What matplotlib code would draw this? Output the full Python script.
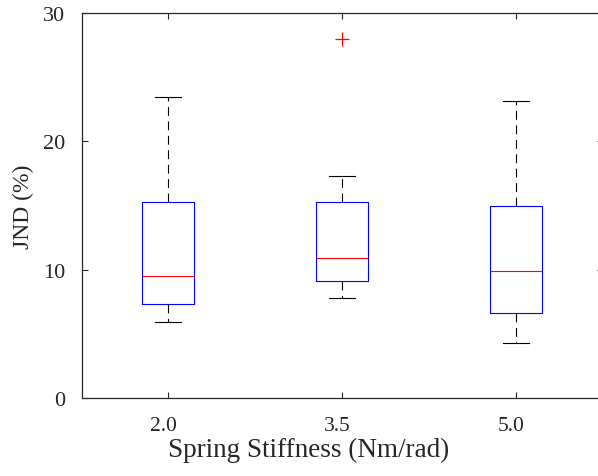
import matplotlib
matplotlib.use("Agg")
import matplotlib.pyplot as plt
from matplotlib.transforms import ScaledTranslation

plt.rcParams['font.family'] = ['Liberation Serif', 'DejaVu Serif']

categories = ["2.0", "3.5", "5.0"]
q1 = [7.37, 9.14, 6.62]
median = [9.52, 10.93, 9.89]
q3 = [15.26, 15.31, 15.00]
whisker_low = [5.94, 7.79, 4.28]
whisker_high = [23.47, 17.31, 23.15]
outliers = [[], [28.0], []]

stats = []
for i in range(len(categories)):
    stats.append(dict(label=categories[i], q1=q1[i], med=median[i], q3=q3[i],
                      whislo=whisker_low[i], whishi=whisker_high[i],
                      fliers=outliers[i]))

W, H = 598, 477
fig = plt.figure(figsize=(W/100, H/100), dpi=100)
ax_l, ax_r, ax_t, ax_b = 81.5, 602.6, 14.0, 399.3
ax = fig.add_axes([ax_l/W, (H-ax_b)/H, (ax_r-ax_l)/W, (ax_b-ax_t)/H])

lw = 0.8
ax.bxp(stats, positions=[1, 2, 3], widths=0.3, showfliers=True,
       boxprops=dict(color='#0000ff', linewidth=lw),
       medianprops=dict(color='#ff0000', linewidth=lw),
       whiskerprops=dict(color='black', linewidth=lw, linestyle=(0, (8, 5))),
       capprops=dict(color='black', linewidth=lw),
       capwidths=0.15,
       flierprops=dict(marker='+', markeredgecolor='#ff0000', markersize=10,
                       markeredgewidth=0.9, linestyle='none'))

ax.set_xlim(0.5, 3.5)
ax.set_ylim(0, 30)
ax.set_yticks([0, 10, 20, 30])
ax.set_xticks([1, 2, 3])
ax.set_xticklabels(categories)

for s in ax.spines.values():
    s.set_color('#262626')
    s.set_linewidth(0.9)

ax.tick_params(direction='in', length=4, width=0.8, color='#262626',
               top=True, right=True, labelsize=16, labelcolor='#262626')
ax.tick_params(axis='x', pad=12.5, labelsize=15.5)
ax.tick_params(axis='y', pad=11.5)

# tick labels in the reference sit slightly left of their ticks
shift = ScaledTranslation(-5/100, 0, fig.dpi_scale_trans)
for lab in ax.get_xticklabels():
    lab.set_transform(lab.get_transform() + shift)

ax.set_xlabel('Spring Stiffness (Nm/rad)', fontsize=19.5, color='#262626')
ax.xaxis.set_label_coords((308.5-ax_l)/(ax_r-ax_l), (ax_b-437.5)/(ax_b-ax_t))
ax.set_ylabel('JND (%)', fontsize=17, color='#262626')
ax.yaxis.set_label_coords((34.5-ax_l)/(ax_r-ax_l), 0.5)

fig.savefig('out.png', dpi=100)
